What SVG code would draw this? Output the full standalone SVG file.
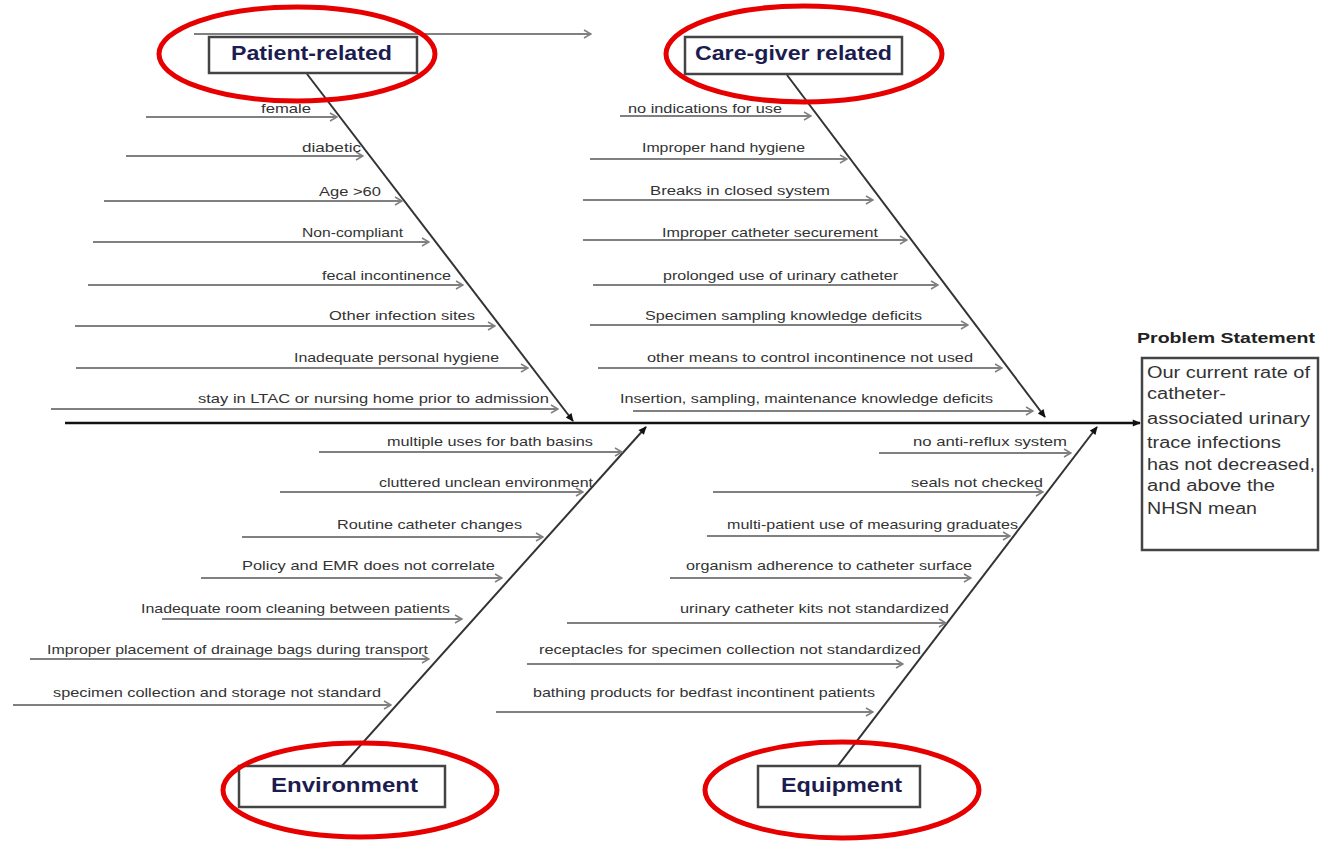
<svg xmlns="http://www.w3.org/2000/svg" width="1332" height="841" viewBox="0 0 1332 841">
<style>
.lbl{font-family:"Liberation Sans",Arial,sans-serif;font-size:13px;fill:#333}
.head{font-family:"Liberation Sans",Arial,sans-serif;font-size:20px;font-weight:bold;fill:#1c1c50}
.sub{stroke:#808080;stroke-width:2;fill:none;marker-end:url(#open)}
.bone{stroke:#333;stroke-width:2;fill:none;marker-end:url(#dot)}
.box{fill:#fff;stroke:#444;stroke-width:2.5}
.ring{fill:none;stroke:#e60000;stroke-width:5}
.ps{font-family:"Liberation Sans",Arial,sans-serif;font-size:16px;fill:#333}
</style>
<defs>
<marker id="open" viewBox="0 0 10 10" refX="9" refY="5" markerWidth="10" markerHeight="10" markerUnits="userSpaceOnUse" orient="auto">
<polyline points="2,1 9,5 2,9" fill="none" stroke="#808080" stroke-width="1.5"/>
</marker>
<marker id="dot" viewBox="0 0 10 10" refX="9" refY="5" markerWidth="9" markerHeight="9" markerUnits="userSpaceOnUse" orient="auto">
<path d="M1,1 L10,5 L1,9 Z" fill="#111"/>
</marker>
</defs>
<rect width="1332" height="841" fill="#fff"/>

<g id="connectors">
<line x1="194" y1="34" x2="591" y2="34" class="sub"/>
<line x1="65" y1="423" x2="1140" y2="423" stroke="#111" stroke-width="2.5" marker-end="url(#dot)"/>
<line x1="307" y1="74" x2="573" y2="421" class="bone"/>
<line x1="787" y1="75" x2="1045" y2="417" class="bone"/>
<line x1="341" y1="767" x2="646" y2="427" class="bone"/>
<line x1="837" y1="767" x2="1097" y2="427" class="bone"/>
<!-- patient -->
<line x1="146" y1="117" x2="337" y2="117" class="sub"/>
<line x1="126" y1="156" x2="363" y2="156" class="sub"/>
<line x1="104" y1="201" x2="402" y2="201" class="sub"/>
<line x1="93" y1="242" x2="429" y2="242" class="sub"/>
<line x1="88" y1="285" x2="463" y2="285" class="sub"/>
<line x1="75" y1="326" x2="495" y2="326" class="sub"/>
<line x1="76" y1="368" x2="528" y2="368" class="sub"/>
<line x1="51" y1="409" x2="558" y2="409" class="sub"/>
<!-- caregiver -->
<line x1="620" y1="116" x2="811" y2="116" class="sub"/>
<line x1="590" y1="159" x2="847" y2="159" class="sub"/>
<line x1="583" y1="200" x2="873" y2="200" class="sub"/>
<line x1="583" y1="240" x2="907" y2="240" class="sub"/>
<line x1="593" y1="285" x2="938" y2="285" class="sub"/>
<line x1="590" y1="325" x2="968" y2="325" class="sub"/>
<line x1="598" y1="368" x2="1002" y2="368" class="sub"/>
<line x1="633" y1="411" x2="1033" y2="411" class="sub"/>
<!-- environment -->
<line x1="319" y1="452" x2="622" y2="452" class="sub"/>
<line x1="280" y1="492" x2="583" y2="492" class="sub"/>
<line x1="242" y1="537" x2="543" y2="537" class="sub"/>
<line x1="201" y1="578" x2="502" y2="578" class="sub"/>
<line x1="162" y1="619" x2="462" y2="619" class="sub"/>
<line x1="30" y1="659" x2="429" y2="659" class="sub"/>
<line x1="13" y1="705" x2="391" y2="705" class="sub"/>
<!-- equipment -->
<line x1="879" y1="453" x2="1071" y2="453" class="sub"/>
<line x1="713" y1="492" x2="1043" y2="492" class="sub"/>
<line x1="707" y1="536" x2="1010" y2="536" class="sub"/>
<line x1="670" y1="578" x2="971" y2="578" class="sub"/>
<line x1="567" y1="623" x2="946" y2="623" class="sub"/>
<line x1="527" y1="664" x2="903" y2="664" class="sub"/>
<line x1="496" y1="712" x2="873" y2="712" class="sub"/>
</g>

<g id="patient-related">
<rect x="209" y="37" width="208" height="36" class="box"/>
<text x="231" y="60" class="head" textLength="161" lengthAdjust="spacingAndGlyphs">Patient-related</text>
<ellipse cx="297" cy="54" rx="138" ry="47" class="ring"/>
</g>
<g id="patient-causes">
<text x="261" y="112.5" class="lbl" textLength="50" lengthAdjust="spacingAndGlyphs">female</text>
<text x="302" y="151.5" class="lbl" textLength="59" lengthAdjust="spacingAndGlyphs">diabetic</text>
<text x="319" y="195.5" class="lbl" textLength="62" lengthAdjust="spacingAndGlyphs">Age &gt;60</text>
<text x="302" y="236.5" class="lbl" textLength="101" lengthAdjust="spacingAndGlyphs">Non-compliant</text>
<text x="322" y="279.5" class="lbl" textLength="129" lengthAdjust="spacingAndGlyphs">fecal incontinence</text>
<text x="329" y="319.5" class="lbl" textLength="146" lengthAdjust="spacingAndGlyphs">Other infection sites</text>
<text x="294" y="361.5" class="lbl" textLength="205" lengthAdjust="spacingAndGlyphs">Inadequate personal hygiene</text>
<text x="198" y="402.5" class="lbl" textLength="351" lengthAdjust="spacingAndGlyphs">stay in LTAC or nursing home prior to admission</text>
</g>

<g id="care-giver-related">
<rect x="685" y="37" width="217" height="37" class="box"/>
<text x="695" y="60" class="head" textLength="197" lengthAdjust="spacingAndGlyphs">Care-giver related</text>
<ellipse cx="804" cy="54" rx="138" ry="48" class="ring"/>
</g>
<g id="care-giver-causes">
<text x="628" y="112.5" class="lbl" textLength="154" lengthAdjust="spacingAndGlyphs">no indications for use</text>
<text x="642" y="151.5" class="lbl" textLength="163" lengthAdjust="spacingAndGlyphs">Improper hand hygiene</text>
<text x="650" y="194.5" class="lbl" textLength="180" lengthAdjust="spacingAndGlyphs">Breaks in closed system</text>
<text x="662" y="236.5" class="lbl" textLength="216" lengthAdjust="spacingAndGlyphs">Improper catheter securement</text>
<text x="663" y="279.5" class="lbl" textLength="235" lengthAdjust="spacingAndGlyphs">prolonged use of urinary catheter</text>
<text x="645" y="319.5" class="lbl" textLength="277" lengthAdjust="spacingAndGlyphs">Specimen sampling knowledge deficits</text>
<text x="647" y="361.5" class="lbl" textLength="326" lengthAdjust="spacingAndGlyphs">other means to control incontinence not used</text>
<text x="620" y="402.5" class="lbl" textLength="373" lengthAdjust="spacingAndGlyphs">Insertion, sampling, maintenance knowledge deficits</text>
</g>

<g id="environment">
<rect x="239" y="766" width="206" height="41" class="box"/>
<text x="271" y="792" class="head" textLength="147" lengthAdjust="spacingAndGlyphs">Environment</text>
<ellipse cx="360" cy="790" rx="137" ry="47" class="ring"/>
</g>
<g id="environment-causes">
<text x="387" y="445.5" class="lbl" textLength="206" lengthAdjust="spacingAndGlyphs">multiple uses for bath basins</text>
<text x="379" y="486.5" class="lbl" textLength="214" lengthAdjust="spacingAndGlyphs">cluttered unclean environment</text>
<text x="337" y="528.5" class="lbl" textLength="185" lengthAdjust="spacingAndGlyphs">Routine catheter changes</text>
<text x="242" y="569.5" class="lbl" textLength="253" lengthAdjust="spacingAndGlyphs">Policy and EMR does not correlate</text>
<text x="141" y="612.5" class="lbl" textLength="309" lengthAdjust="spacingAndGlyphs">Inadequate room cleaning between patients</text>
<text x="47" y="653.5" class="lbl" textLength="381" lengthAdjust="spacingAndGlyphs">Improper placement of drainage bags during transport</text>
<text x="53" y="696.5" class="lbl" textLength="328" lengthAdjust="spacingAndGlyphs">specimen collection and storage not standard</text>
</g>

<g id="equipment">
<rect x="758" y="766" width="162" height="41" class="box"/>
<text x="781" y="792" class="head" textLength="121" lengthAdjust="spacingAndGlyphs">Equipment</text>
<ellipse cx="842" cy="790" rx="137" ry="48" class="ring"/>
</g>
<g id="equipment-causes">
<text x="913" y="445.5" class="lbl" textLength="154" lengthAdjust="spacingAndGlyphs">no anti-reflux system</text>
<text x="911" y="486.5" class="lbl" textLength="132" lengthAdjust="spacingAndGlyphs">seals not checked</text>
<text x="727" y="528.5" class="lbl" textLength="291" lengthAdjust="spacingAndGlyphs">multi-patient use of measuring graduates</text>
<text x="686" y="569.5" class="lbl" textLength="286" lengthAdjust="spacingAndGlyphs">organism adherence to catheter surface</text>
<text x="680" y="612.5" class="lbl" textLength="269" lengthAdjust="spacingAndGlyphs">urinary catheter kits not standardized</text>
<text x="539" y="653.5" class="lbl" textLength="382" lengthAdjust="spacingAndGlyphs">receptacles for specimen collection not standardized</text>
<text x="533" y="696.5" class="lbl" textLength="342" lengthAdjust="spacingAndGlyphs">bathing products for bedfast incontinent patients</text>
</g>

<g id="problem-statement">
<text x="1137" y="343" font-family="'Liberation Sans',Arial,sans-serif" font-size="15" font-weight="bold" fill="#222" textLength="178" lengthAdjust="spacingAndGlyphs">Problem Statement</text>
<rect x="1142" y="358" width="176" height="192" class="box"/>
<text x="1147" y="378" class="ps" textLength="163" lengthAdjust="spacingAndGlyphs">Our current rate of</text>
<text x="1147" y="399" class="ps" textLength="79" lengthAdjust="spacingAndGlyphs">catheter-</text>
<text x="1147" y="424" class="ps" textLength="163" lengthAdjust="spacingAndGlyphs">associated urinary</text>
<text x="1147" y="448" class="ps" textLength="134" lengthAdjust="spacingAndGlyphs">trace infections</text>
<text x="1147" y="470" class="ps" textLength="168" lengthAdjust="spacingAndGlyphs">has not decreased,</text>
<text x="1147" y="491" class="ps" textLength="128" lengthAdjust="spacingAndGlyphs">and above the</text>
<text x="1147" y="514" class="ps" textLength="110" lengthAdjust="spacingAndGlyphs">NHSN mean</text>
</g>
</svg>
